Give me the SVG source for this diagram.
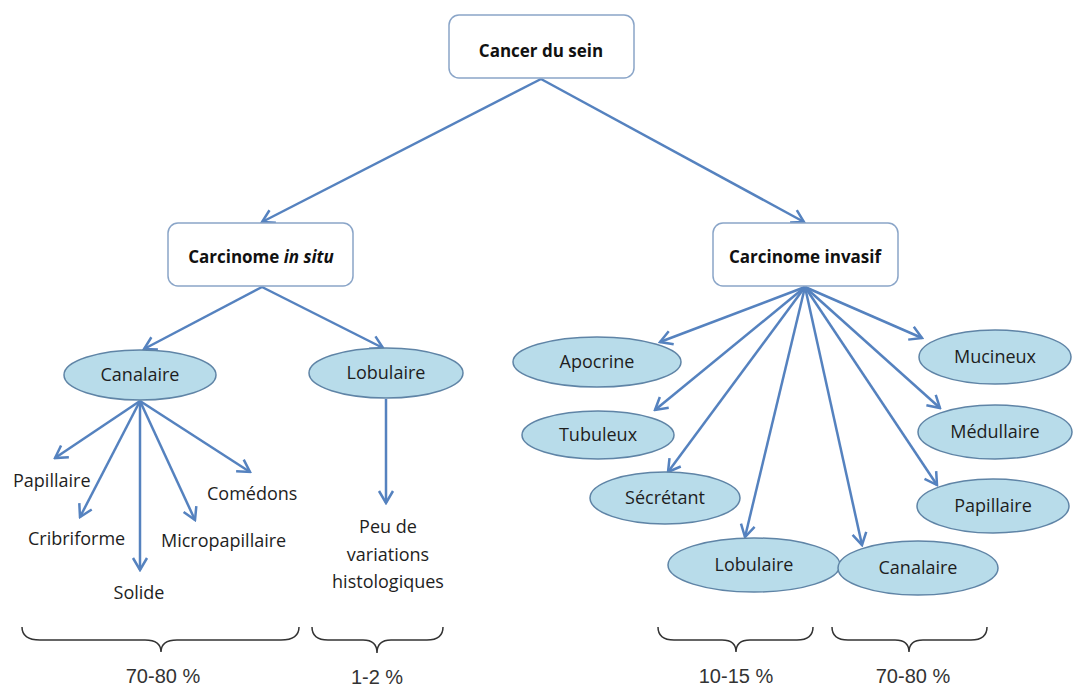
<svg xmlns="http://www.w3.org/2000/svg" width="1076" height="687" viewBox="0 0 1076 687">
<style>
.box{fill:#fff;stroke:#8aa5c8;stroke-width:1.5}
.ell{fill:#b8dcea;stroke:#5f84a6;stroke-width:1.5}
.bt{font-family:"Open Sans","Liberation Sans",sans-serif;font-weight:bold;font-size:17px;fill:#111;text-anchor:middle}
.t{font-family:"Open Sans","Liberation Sans",sans-serif;font-size:18px;fill:#1e1e1e;text-anchor:middle}
.tl{font-family:"Open Sans","Liberation Sans",sans-serif;font-size:18px;fill:#1e1e1e}
.pc{font-family:"Liberation Sans",Arial,sans-serif;font-size:20px;fill:#333;text-anchor:middle}
.con line{stroke:#5582bf;stroke-width:2.5;marker-end:url(#arr)}
.brace{fill:none;stroke:#333;stroke-width:1.5}
</style>
<defs>
<marker id="arr" markerUnits="userSpaceOnUse" viewBox="-14 -9 16 18" markerWidth="16" markerHeight="18" refX="0" refY="0" orient="auto">
<path d="M-12,-7 L0,0 L-12,7" fill="none" stroke="#5582bf" stroke-width="2.5" stroke-linejoin="miter"/>
</marker>
</defs>
<rect width="1076" height="687" fill="#fff"/>
<g class="con" id="connectors">
<line x1="541" y1="79" x2="262" y2="222"/>
<line x1="541" y1="79" x2="804" y2="222"/>
<line x1="262" y1="287" x2="144" y2="349"/>
<line x1="262" y1="287" x2="383" y2="348"/>
<line x1="140" y1="401" x2="55" y2="458"/>
<line x1="140" y1="401" x2="80" y2="517"/>
<line x1="140" y1="401" x2="140" y2="570"/>
<line x1="140" y1="401" x2="195" y2="520"/>
<line x1="140" y1="401" x2="250" y2="472"/>
<line x1="386" y1="399" x2="386" y2="503"/>
<line x1="805" y1="287" x2="660" y2="342"/>
<line x1="805" y1="287" x2="655" y2="410"/>
<line x1="805" y1="287" x2="668" y2="472"/>
<line x1="805" y1="287" x2="745" y2="537"/>
<line x1="805" y1="287" x2="862" y2="545"/>
<line x1="805" y1="287" x2="937" y2="485"/>
<line x1="805" y1="287" x2="940" y2="408"/>
<line x1="805" y1="287" x2="922" y2="338"/>
</g>
<g id="cancer"><rect class="box" x="449" y="15" width="185" height="63" rx="10"/><text class="bt" x="541" y="57">Cancer du sein</text></g>
<g id="insitu"><rect class="box" x="168" y="223" width="185" height="63" rx="10"/><text class="bt" x="261" y="263">Carcinome <tspan font-style="italic">in situ</tspan></text></g>
<g id="invasif"><rect class="box" x="713" y="223" width="185" height="63" rx="10"/><text class="bt" x="805" y="263">Carcinome invasif</text></g>
<g id="canalaire-l"><ellipse class="ell" cx="140" cy="375" rx="76" ry="25"/><text class="t" x="140" y="381">Canalaire</text></g>
<g id="lobulaire-l"><ellipse class="ell" cx="386" cy="373" rx="77" ry="25"/><text class="t" x="386" y="379">Lobulaire</text></g>
<g id="papillaire-l"><text class="tl" x="13" y="487">Papillaire</text></g>
<g id="cribriforme"><text class="tl" x="28" y="545">Cribriforme</text></g>
<g id="solide"><text class="t" x="139" y="599">Solide</text></g>
<g id="micropapillaire"><text class="tl" x="161" y="547">Micropapillaire</text></g>
<g id="comedons"><text class="tl" x="207" y="500">Comédons</text></g>
<g id="peu"><text class="t" x="388" y="533">Peu de</text><text class="t" x="388" y="561">variations</text><text class="t" x="388" y="588">histologiques</text></g>
<g id="apocrine"><ellipse class="ell" cx="597" cy="362" rx="84" ry="25"/><text class="t" x="597" y="368">Apocrine</text></g>
<g id="tubuleux"><ellipse class="ell" cx="598" cy="435" rx="76" ry="24"/><text class="t" x="598" y="441">Tubuleux</text></g>
<g id="secretant"><ellipse class="ell" cx="665" cy="498" rx="75" ry="26"/><text class="t" x="665" y="504">Sécrétant</text></g>
<g id="lobulaire-r"><ellipse class="ell" cx="754" cy="565" rx="86" ry="27"/><text class="t" x="754" y="571">Lobulaire</text></g>
<g id="mucineux"><ellipse class="ell" cx="995" cy="357" rx="76" ry="27"/><text class="t" x="995" y="363">Mucineux</text></g>
<g id="medullaire"><ellipse class="ell" cx="995" cy="432" rx="77" ry="27"/><text class="t" x="995" y="438">Médullaire</text></g>
<g id="papillaire-r"><ellipse class="ell" cx="993" cy="506" rx="76" ry="27"/><text class="t" x="993" y="512">Papillaire</text></g>
<g id="canalaire-r"><ellipse class="ell" cx="918" cy="568" rx="80" ry="27"/><text class="t" x="918" y="574">Canalaire</text></g>
<g id="braces">
<path class="brace" d="M22,627 Q22,640 40,640 L145,640 Q161,640 161,652 Q161,640 177,640 L281,640 Q299,640 299,627"/>
<path class="brace" d="M312,627 Q312,640 328,640 L363,640 Q377,640 377,653 Q377,640 391,640 L427,640 Q443,640 443,627"/>
<path class="brace" d="M658,627 Q658,640 674,640 L722,640 Q736,640 736,652 Q736,640 750,640 L797,640 Q813,640 813,627"/>
<path class="brace" d="M832,627 Q832,640 848,640 L895,640 Q909,640 909,652 Q909,640 923,640 L971,640 Q987,640 987,627"/>
<text class="pc" x="163" y="683">70-80 %</text>
<text class="pc" x="377" y="684">1-2 %</text>
<text class="pc" x="736" y="683">10-15 %</text>
<text class="pc" x="913" y="683">70-80 %</text>
</g>
</svg>
